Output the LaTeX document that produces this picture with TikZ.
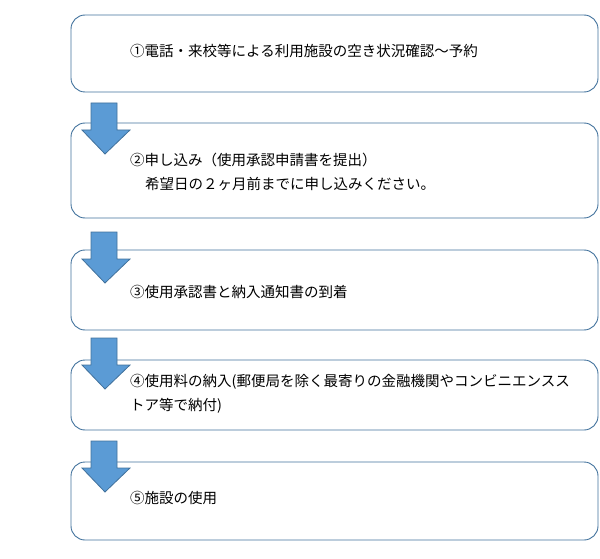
\documentclass[tikz,border=0pt]{standalone}
\usepackage{fontspec}
\newfontfamily\cjk{Noto Sans CJK JP}
\definecolor{bord}{HTML}{41719C}
\definecolor{fillb}{HTML}{5B9BD5}
\begin{document}
\begin{tikzpicture}[x=1pt,y=-1pt,
  stepbox/.style={draw=bord,line width=0.9pt,rounded corners=14pt},
  txt/.style={anchor=west,inner sep=0pt,font=\cjk\fontsize{14.5}{17}\selectfont},
  barrow/.style={draw=bord,fill=fillb,line width=0.8pt}]
\useasboundingbox (0,0) rectangle (600,559);
\draw[stepbox] (71,15) rectangle (598,92);
\draw[stepbox] (71,123) rectangle (598,218);
\draw[stepbox] (71,250) rectangle (598,330);
\draw[stepbox] (71,360) rectangle (598,430);
\draw[stepbox] (71,462) rectangle (598,540);
\foreach \t in {103,232,338,441}{
  \draw[barrow] (91,\t) -- (117,\t) -- (117,\t+27) -- (130,\t+27) -- (105,\t+51) -- (82,\t+27) -- (91,\t+27) -- cycle;
}
\node[txt] (t1) at (130,51) {①電話・来校等による利用施設の空き状況確認～予約};
\node[txt] (t2) at (130,160) {②申し込み（使用承認申請書を提出）};
\node[txt] (t2b) at (145,184) {希望日の２ヶ月前までに申し込みください。};
\node[txt] (t3) at (130,292) {③使用承認書と納入通知書の到着};
\node[txt] (t4) at (130,382) {④使用料の納入(郵便局を除く最寄りの金融機関やコンビニエンスス};
\node[txt] (t4b) at (130,406) {トア等で納付)};
\node[txt] (t5) at (130,498) {⑤施設の使用};
\end{tikzpicture}
\end{document}
